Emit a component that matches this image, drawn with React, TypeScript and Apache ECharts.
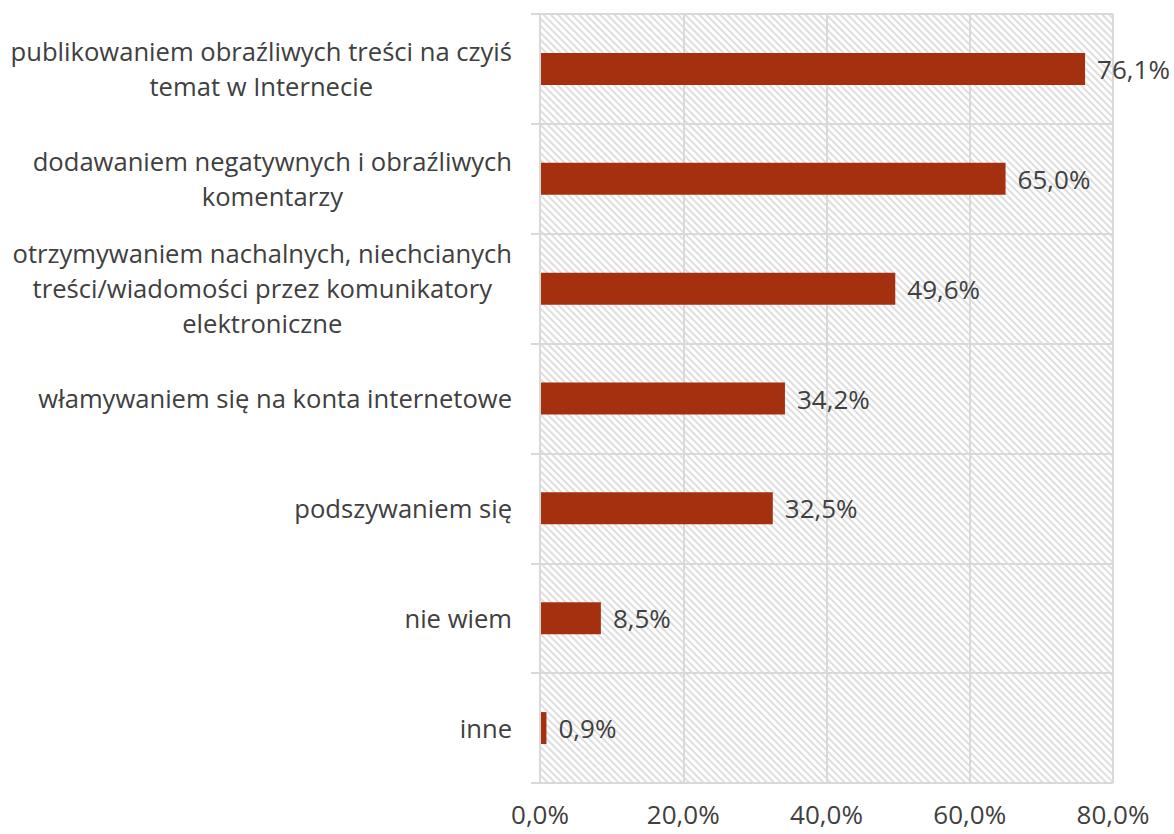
import React, { useEffect, useRef } from "react";
import * as echarts from "echarts";

const categories = [
  "publikowaniem obraźliwych treści na czyiś\ntemat w Internecie",
  "dodawaniem negatywnych i obraźliwych\nkomentarzy",
  "otrzymywaniem nachalnych, niechcianych\ntreści/wiadomości przez komunikatory\nelektroniczne",
  "włamywaniem się na konta internetowe",
  "podszywaniem się",
  "nie wiem",
  "inne",
];
const values = [76.1, 65.0, 49.6, 34.2, 32.5, 8.5, 0.9];
const axisMax = 80;
const axisInterval = 20;

const fmt = (v: number) => v.toFixed(1).replace(".", ",") + "%";

export default function App() {
  const ref = useRef<HTMLDivElement>(null);
  useEffect(() => {
    const chart = echarts.init(ref.current!, null, { renderer: "svg" });
    const font = "'Open Sans', 'Noto Sans', sans-serif";
    const grey = "#d9d9d9";
    const textColor = "#404040";
    const catFontSize = 25.6;
    const numFontSize = 26;
    const gridLeft = 540;
    const labelMargin = 28;
    chart.setOption({
      animation: false,
      grid: { left: gridLeft, right: 61, top: 14, bottom: 51, containLabel: false },
      xAxis: {
        type: "value",
        min: 0,
        max: axisMax,
        interval: axisInterval,
        axisLine: { show: false },
        axisTick: { show: false },
        splitLine: { show: true, lineStyle: { color: grey, width: 2 } },
        axisLabel: {
          formatter: (v: number) => fmt(v),
          fontSize: numFontSize,
          lineHeight: 26,
          color: textColor,
          fontFamily: font,
          margin: 18,
        },
      },
      yAxis: [
        {
          type: "category",
          data: categories,
          inverse: true,
          z: 3,
          axisLine: { show: true, lineStyle: { color: grey, width: 2 } },
          axisTick: { show: true, length: 9, lineStyle: { color: grey, width: 2 } },
          splitLine: { show: true, lineStyle: { color: grey, width: 2 } },
          axisLabel: { show: false },
        },
        {
          type: "category",
          data: categories,
          inverse: true,
          show: false,
        },
      ],
      series: [
        {
          type: "bar",
          yAxisIndex: 1,
          data: categories.map(() => axisMax),
          barWidth: "100%",
          silent: true,
          z: -1,
          itemStyle: {
            color: "#ffffff",
            decal: {
              symbol: "rect",
              color: "#dedede",
              dashArrayX: [1, 0],
              dashArrayY: [1.3, 3],
              rotation: Math.PI / 4,
            },
          },
        },
        {
          type: "bar",
          yAxisIndex: 0,
          data: values,
          barWidth: 32,
          z: 2,
          itemStyle: { color: "#A5300F" },
          label: {
            show: true,
            position: "right",
            distance: 12,
            formatter: (p: any) => fmt(p.value),
            fontSize: numFontSize,
            color: textColor,
            fontFamily: font,
          },
        },
      ],
    });

    // Category labels: right-anchored blocks with centred lines
    const ctx = document.createElement("canvas").getContext("2d")!;
    ctx.font = `${catFontSize}px 'Open Sans'`;
    const elements = categories.map((cat, i) => {
      const lines = cat.split("\n");
      const w = Math.max(...lines.map((l) => ctx.measureText(l).width));
      const y = chart.convertToPixel({ yAxisIndex: 0 }, i) as number;
      return {
        type: "text",
        x: gridLeft - labelMargin - w / 2,
        y,
        silent: true,
        style: {
          text: cat,
          align: "center",
          verticalAlign: "middle",
          fontSize: catFontSize,
          lineHeight: 35,
          fontFamily: font,
          fill: textColor,
        },
      };
    });
    chart.setOption({ graphic: elements });
    return () => chart.dispose();
  }, []);
  return <div ref={ref} style={{ width: 1174, height: 834, position: "absolute", left: 0, top: 0 }} />;
}
